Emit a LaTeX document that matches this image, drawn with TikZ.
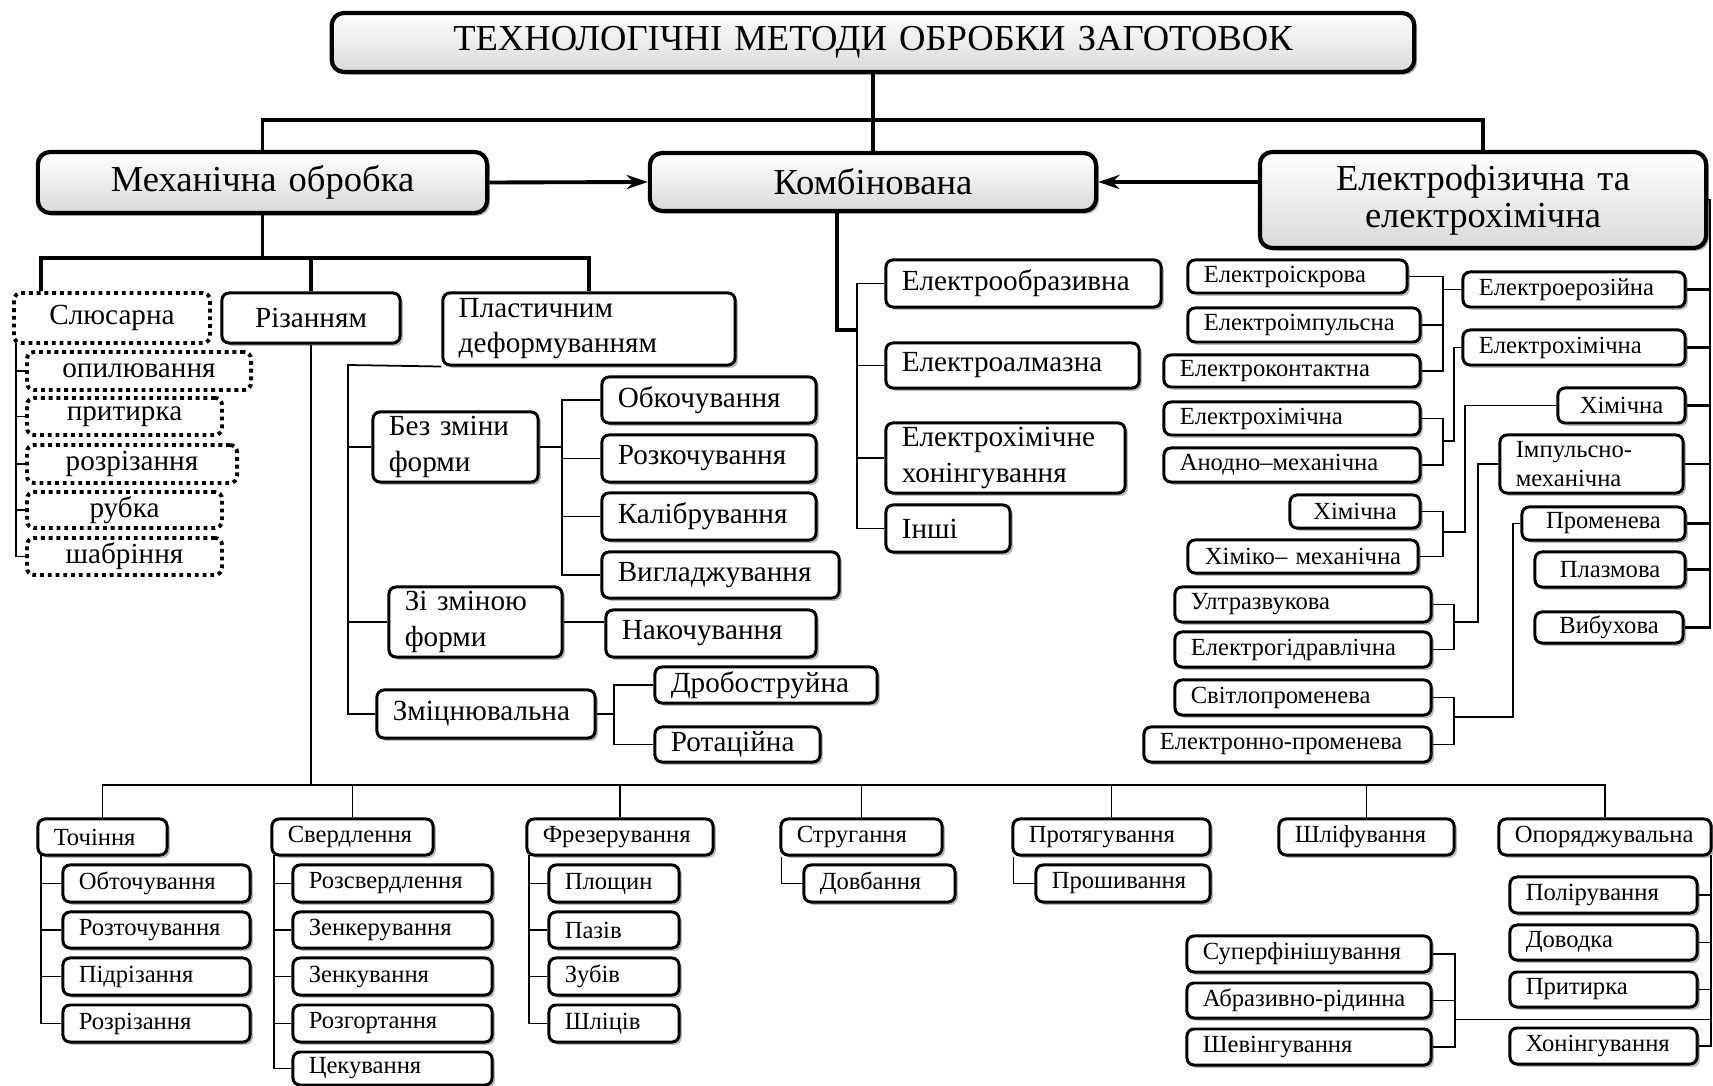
\documentclass[tikz,border=0pt]{standalone}
\usepackage{fontspec}
\setmainfont{Liberation Serif}
\usetikzlibrary{arrows.meta,shadows}
\hyphenpenalty=10000
\exhyphenpenalty=10000
\tikzset{
	box/.style={draw, fill=white, rounded corners=2pt, line width=0.85pt, inner xsep=4.5pt, inner ysep=0pt, align=left},
	shd/.style={drop shadow={shadow xshift=0.8pt, shadow yshift=-0.8pt, opacity=0.45, fill=black!60}},
	big/.style={box, shd, line width=1.2pt, rounded corners=3.5pt, align=center, top color=white, bottom color=black!15, font=\fontsize{10.4}{10.5}\selectfont},
	mid/.style={box, shd, font=\fontsize{8.3}{10}\selectfont},
	small/.style={box, shd, font=\fontsize{7}{8}\selectfont},
	dots/.style={box, dash pattern=on 1.1pt off 1.1pt, line width=1.1pt, align=center, font=\fontsize{8.3}{10}\selectfont},
	cen/.style={align=center},
	tlink/.style={line width=1.1pt},
	mlink/.style={line width=0.7pt},
	link/.style={line width=0.5pt}
}
\def\bx[#1](#2)(#3,#4)(#5,#6)#7{%
	\pgfmathsetmacro{\bxw}{(#5-#3)*0.2845274}%
	\pgfmathsetmacro{\bxh}{(#6-#4)*0.2845274}%
	\pgfmathsetmacro{\bxt}{\bxw-9}%
	\node[minimum width=\bxw pt, minimum height=\bxh pt, text width=\bxt pt, #1] (#2) at ({(#3+#5)/2},{(#4+#6)/2}) {#7};}

\begin{document}
\begin{tikzpicture}[x=0.01cm, y=-0.01cm]
		%%%%% START %%%%%
		\fill[white] (0,0) rectangle (1713,1086);
		\useasboundingbox (0,0) rectangle (1713,1086);
		
		\bx[big](top)(332,13)(1414,72){ТЕХНОЛОГІЧНІ МЕТОДИ ОБРОБКИ ЗАГОТОВОК}
		\bx[big](mech)(38,152)(487,213){Механічна обробка}
		\bx[big](komb)(650,153)(1096,211){Комбінована}
		\bx[big](elf)(1260,152)(1706,248){Електрофізична та\\електрохімічна}
		
		%%%%% mechanical
		\bx[dots](slus)(14,293)(210,343){Слюсарна}
		\bx[mid,cen](riz)(222,293)(400,343){Різанням}
		\bx[mid](plast)(443,293)(735,365){Пластичним\\деформуванням}
		
		\bx[dots](opyl)(27,352)(251,390){опилювання}
		\bx[dots](prytA)(27,398)(222,435){притирка}
		\bx[dots](rozrA)(27,445)(237,483){розрізання}
		\bx[dots](rubka)(27,492)(222,528){рубка}
		\bx[dots](shab)(27,538)(222,575){шабріння}
		
		\bx[mid](bez)(373,412)(538,482){Без зміни\\форми}
		\bx[mid](zizm)(389,587)(562,657){Зі зміною\\форми}
		\bx[mid](zmits)(377,690)(595,738){Зміцнювальна}
		\bx[mid](obk)(602,377)(816,423){Обкочування}
		\bx[mid](rozk)(602,435)(816,482){Розкочування}
		\bx[mid](kalib)(602,493)(816,540){Калібрування}
		\bx[mid](vyhl)(602,552)(839,598){Вигладжування}
		\bx[mid](nak)(606,610)(816,657){Накочування}
		\bx[mid](drob)(655,667)(877,703){Дробоструйна}
		\bx[mid](rot)(655,727)(820,762){Ротаційна}
		
		%%%%% combined
		\bx[mid](eobr)(886,260)(1161,307){Електрообразивна}
		\bx[mid](ealm)(886,343)(1139,388){Електроалмазна}
		\bx[mid](ehon)(886,423)(1125,493){Електрохімічне\\хонінгування}
		\bx[mid](inshi)(886,505)(1010,552){Інші}
		
		%%%%% electrophysical
		\bx[small](eisk)(1188,260)(1407,293){Електроіскрова}
		\bx[small](eimp)(1188,308)(1420,342){Електроімпульсна}
		\bx[small](ekont)(1164,355)(1420,387){Електроконтактна}
		\bx[small](ekhA)(1164,402)(1420,435){Електрохімічна}
		\bx[small](anod)(1164,448)(1420,482){Анодно–механічна}
		\bx[small,cen](khimA)(1290,495)(1420,528){Хімічна}
		\bx[small,cen](khmex)(1188,540)(1418,573){Хіміко–~механічна}
		\bx[small](ultr)(1175,587)(1431,622){Ултразвукова}
		\bx[small](egid)(1175,632)(1431,667){Електрогідравлічна}
		\bx[small](svit)(1175,680)(1431,715){Світлопроменева}
		\bx[small](elpr)(1144,727)(1431,762){Електронно-променева}
		
		\bx[small](eeroz)(1463,272)(1685,307){Електроерозійна}
		\bx[small](ekhB)(1463,330)(1685,365){Електрохімічна}
		\bx[small,cen](khimB)(1558,388)(1685,423){Хімічна}
		\bx[small](imp)(1500,435)(1683,493){Імпульсно-\\механічна}
		\bx[small,cen](prom)(1522,507)(1685,540){Променева}
		\bx[small,cen](plaz)(1535,552)(1685,587){Плазмова}
		\bx[small,cen](vyb)(1535,612)(1683,643){Вибухова}
		
		%%%%% cutting
		\bx[small](toch)(38,819)(167,855){Точіння}
		\bx[small](svr)(272,819)(433,855){Свердлення}
		\bx[small](frez)(527,819)(713,855){Фрезерування}
		\bx[small](strug)(781,819)(942,855){Стругання}
		\bx[small](prot)(1013,819)(1210,855){Протягування}
		\bx[small](shlif)(1279,819)(1454,855){Шліфування}
		\bx[small](opor)(1499,819)(1711,855){Опоряджувальна}
		
		\bx[small](obt)(63,865)(250,902){Обточування}
		\bx[small](rozt)(63,912)(250,948){Розточування}
		\bx[small](pidr)(63,958)(250,995){Підрізання}
		\bx[small](rozrB)(63,1005)(250,1042){Розрізання}
		
		\bx[small](rozsv)(293,865)(492,902){Розсвердлення}
		\bx[small](zenker)(293,912)(492,948){Зенкерування}
		\bx[small](zenk)(293,958)(492,995){Зенкування}
		\bx[small](rozg)(293,1005)(492,1042){Розгортання}
		\bx[small](tsek)(293,1052)(492,1085){Цекування}
		
		\bx[small](plosh)(549,865)(679,902){Площин}
		\bx[small](paz)(549,912)(679,948){Пазів}
		\bx[small](zub)(549,958)(679,995){Зубів}
		\bx[small](shlits)(549,1005)(679,1042){Шліців}
		
		\bx[small](dovb)(804,865)(955,902){Довбання}
		\bx[small](prosh)(1036,865)(1210,902){Прошивання}
		
		\bx[small](super)(1187,936)(1431,972){Суперфінішування}
		\bx[small](abr)(1187,983)(1431,1018){Абразивно-рідинна}
		\bx[small](shev)(1187,1029)(1431,1065){Шевінгування}
		
		\bx[small](polir)(1510,877)(1697,913){Полірування}
		\bx[small](dovod)(1510,925)(1697,960){Доводка}
		\bx[small](prytB)(1510,972)(1697,1007){Притирка}
		\bx[small](hon)(1510,1028)(1697,1064){Хонінгування}
		
		%%%%% links: top
		\coordinate (hub) at (873,120);
		\draw[tlink] (top.south) -- (komb.north);
		\draw[tlink] (mech.north) |- (hub) -| (elf.north);
		\draw[tlink, -{Stealth[length=6pt,width=4pt]}] (mech.east) -- (komb.west);
		\draw[tlink, -{Stealth[length=6pt,width=4pt]}] (elf.west |- komb.east) -- (komb.east);
		
		%%%%% links: mechanical
		\coordinate (mbus) at (0,258);
		\draw[tlink] (mech.south) -- (mech.south |- mbus);
		\draw[tlink] ([xshift=0.29cm]slus.north west) |- (plast.north |- mbus) -- (plast.north);
		\draw[tlink] (riz.north) -- (riz.north |- mbus);
		
		\coordinate (sbar) at (16,343);
		\draw[link] (sbar) |- (shab.west);
		\draw[link] (opyl.west) -- (opyl.west -| sbar);
		\draw[link] (prytA.west) -- (prytA.west -| sbar);
		\draw[link] (rozrA.west) -- (rozrA.west -| sbar);
		\draw[link] (rubka.west) -- (rubka.west -| sbar);
		
		\coordinate (pbar) at (348,365);
		\draw[link] (plast.south west) -- (pbar) |- (zmits.west);
		\draw[link] (bez.west) -- (bez.west -| pbar);
		\draw[link] (zizm.west) -- (zizm.west -| pbar);
		
		\coordinate (bbar) at (562,0);
		\draw[link] (bez.east) -- (bez.east -| bbar);
		\draw[link] (obk.west) -| (vyhl.west -| bbar) -- (vyhl.west);
		\draw[link] (rozk.west) -- (rozk.west -| bbar);
		\draw[link] (kalib.west) -- (kalib.west -| bbar);
		\draw[link] (zizm.east) -- (zizm.east -| nak.west);
		
		\coordinate (zbar) at (614,0);
		\draw[link] (zmits.east) -- (zmits.east -| zbar);
		\draw[link] (drob.west) -| (rot.west -| zbar) -- (rot.west);
		
		%%%%% links: combined
		\coordinate (kjoin) at (857,330);
		\draw[tlink] ([xshift=-0.36cm]komb.south) |- (kjoin);
		\draw[link] (eobr.west) -| (kjoin) |- (inshi.west);
		\draw[link] (ealm.west) -- (ealm.west -| kjoin);
		\draw[link] (ehon.west) -- (ehon.west -| kjoin);
		
		%%%%% links: electrophysical
		\coordinate (ebar) at (1710,0);
		\draw[mlink] (elf.east) -| (vyb.east -| ebar) -- (vyb.east);
		\draw[mlink] (eeroz.east) -- (eeroz.east -| ebar);
		\draw[mlink] (ekhB.east) -- (ekhB.east -| ebar);
		\draw[mlink] (khimB.east) -- (khimB.east -| ebar);
		\draw[mlink] (imp.east) -- (imp.east -| ebar);
		\draw[mlink] (prom.east) -- (prom.east -| ebar);
		\draw[mlink] (plaz.east) -- (plaz.east -| ebar);
		
		\coordinate (gbar) at (1443,0);
		\draw[link] (eisk.east) -| (ekont.east -| gbar) -- (ekont.east);
		\draw[link] (eimp.east) -- (eimp.east -| gbar);
		\draw[link] (eeroz.west) -- (eeroz.west -| gbar);
		\draw[link] (ekhA.east) -| (anod.east -| gbar) -- (anod.east);
		\coordinate (j2) at (1443,441);
		\draw[link] (j2) -- ++(11,0) |- (ekhB.west);
		\draw[link] (khimA.east) -| (khmex.east -| gbar) -- (khmex.east);
		\coordinate (j3) at (1443,532);
		\draw[link] (j3) -- ++(22,0) |- (khimB.west);
		
		\coordinate (hbar) at (1454,0);
		\draw[link] (ultr.east) -| (egid.east -| hbar) -- (egid.east);
		\coordinate (j4) at (1454,622);
		\draw[link] (j4) -- ++(24,0) |- (imp.west);
		\draw[link] (svit.east) -| (elpr.east -| hbar) -- (elpr.east);
		\coordinate (j5) at (1454,717);
		\draw[link] (j5) -- ++(59,0) |- (prom.west);
		
		%%%%% links: cutting
		\coordinate (rbus) at (0,785);
		\draw[link] (riz.south) -- (riz.south |- rbus);
		\draw[link] (toch.north) |- (opor.north |- rbus) -- (opor.north);
		\draw[link] (svr.north) -- (svr.north |- rbus);
		\draw[link] (frez.north) -- (frez.north |- rbus);
		\draw[link] (strug.north) -- (strug.north |- rbus);
		\draw[link] (prot.north) -- (prot.north |- rbus);
		\draw[link] (shlif.north) -- (shlif.north |- rbus);
		
		\coordinate (tbar) at (41,855);
		\draw[link] (tbar) |- (rozrB.west);
		\draw[link] (obt.west) -- (obt.west -| tbar);
		\draw[link] (rozt.west) -- (rozt.west -| tbar);
		\draw[link] (pidr.west) -- (pidr.west -| tbar);
		
		\coordinate (vbar) at (274,855);
		\draw[link] (vbar) |- (tsek.west);
		\draw[link] (rozsv.west) -- (rozsv.west -| vbar);
		\draw[link] (zenker.west) -- (zenker.west -| vbar);
		\draw[link] (zenk.west) -- (zenk.west -| vbar);
		\draw[link] (rozg.west) -- (rozg.west -| vbar);
		
		\coordinate (fbar) at (529,855);
		\draw[link] (fbar) |- (shlits.west);
		\draw[link] (plosh.west) -- (plosh.west -| fbar);
		\draw[link] (paz.west) -- (paz.west -| fbar);
		\draw[link] (zub.west) -- (zub.west -| fbar);
		
		\draw[link] ([xshift=0.02cm]strug.south west) |- (dovb.west);
		\draw[link] ([xshift=0.02cm]prot.south west) |- (prosh.west);
		
		\coordinate (obar) at (1711,855);
		\draw[link] (obar) |- (hon.east);
		\draw[link] (polir.east) -- (polir.east -| obar);
		\draw[link] (dovod.east) -- (dovod.east -| obar);
		\draw[link] (prytB.east) -- (prytB.east -| obar);
		
		\coordinate (ubar) at (1455,0);
		\draw[link] (super.east) -| (shev.east -| ubar) -- (shev.east);
		\draw[link] (abr.east) -- (abr.east -| ubar);
		\draw[link] (abr.south east -| ubar) -- (abr.south east -| obar);
		
		%%%%% END %%%%%
\end{tikzpicture}
\end{document}
